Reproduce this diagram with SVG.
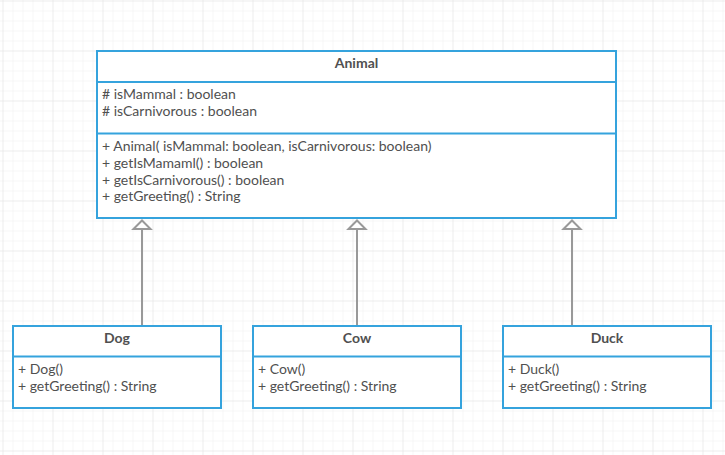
<svg xmlns="http://www.w3.org/2000/svg" width="725" height="455" viewBox="0 0 725 455">
<defs>
<pattern id="grid" width="10" height="10" patternUnits="userSpaceOnUse" x="2.5" y="0.5">
<path d="M10 0 H0 V10" fill="none" stroke="#efefef" stroke-width="1"/>
</pattern>
<pattern id="grid2" width="50" height="50" patternUnits="userSpaceOnUse" x="2.5" y="0.5">
<path d="M50 0 H0 V50" fill="none" stroke="#e6e6e6" stroke-width="1"/>
</pattern>
<marker id="inh" viewBox="-1 -1 12 22" refX="0" refY="10" markerWidth="12" markerHeight="22" markerUnits="userSpaceOnUse" orient="auto" overflow="visible">
<path d="M0 1.5 L8.5 10 L0 18.5 Z" fill="#fff" stroke="#999" stroke-width="2" stroke-linejoin="miter"/>
</marker>
<style>
.box{fill:#fff;stroke:#35a3dd;stroke-width:2}
.sep{stroke:#35a3dd;stroke-width:2}
.title{font-family:Lato,"Liberation Sans",sans-serif;font-size:14px;font-weight:bold;fill:#505050;text-anchor:middle}
.t{font-family:Lato,"Liberation Sans",sans-serif;font-size:14px;fill:#505050}
.edge{stroke:#999;stroke-width:2;fill:none}
</style>
</defs>
<rect width="725" height="455" fill="#fff"/>
<rect width="725" height="455" fill="url(#grid)"/>
<rect width="725" height="455" fill="url(#grid2)"/>
<g id="connectors">
<path class="edge" d="M142 326 V229" marker-end="url(#inh)"/>
<path class="edge" d="M357 326 V229" marker-end="url(#inh)"/>
<path class="edge" d="M572 326 V229" marker-end="url(#inh)"/>
</g>
<g id="animal">
<rect class="box" x="97" y="51" width="519" height="167"/>
<line class="sep" x1="97" y1="82" x2="616" y2="82"/>
<line class="sep" x1="97" y1="133.5" x2="616" y2="133.5"/>
<text class="title" x="356.5" y="67.5">Animal</text>
<text class="t" x="102" y="99"># isMammal : boolean</text>
<text class="t" x="102" y="116"># isCarnivorous : boolean</text>
<text class="t" x="102" y="151">+ Animal( isMammal: boolean, isCarnivorous: boolean)</text>
<text class="t" x="102" y="168">+ getIsMamaml() : boolean</text>
<text class="t" x="102" y="185">+ getIsCarnivorous() : boolean</text>
<text class="t" x="102" y="201">+ getGreeting() : String</text>
</g>
<g id="dog">
<rect class="box" x="13" y="326" width="208" height="82"/>
<line class="sep" x1="13" y1="356.5" x2="221" y2="356.5"/>
<text class="title" x="117" y="343">Dog</text>
<text class="t" x="18" y="374">+ Dog()</text>
<text class="t" x="18" y="391">+ getGreeting() : String</text>
</g>
<g id="cow">
<rect class="box" x="253" y="326" width="208" height="82"/>
<line class="sep" x1="253" y1="356.5" x2="461" y2="356.5"/>
<text class="title" x="357" y="343">Cow</text>
<text class="t" x="258" y="374">+ Cow()</text>
<text class="t" x="258" y="391">+ getGreeting() : String</text>
</g>
<g id="duck">
<rect class="box" x="503" y="326" width="208" height="82"/>
<line class="sep" x1="503" y1="356.5" x2="711" y2="356.5"/>
<text class="title" x="607" y="343">Duck</text>
<text class="t" x="508" y="374">+ Duck()</text>
<text class="t" x="508" y="391">+ getGreeting() : String</text>
</g>
</svg>
